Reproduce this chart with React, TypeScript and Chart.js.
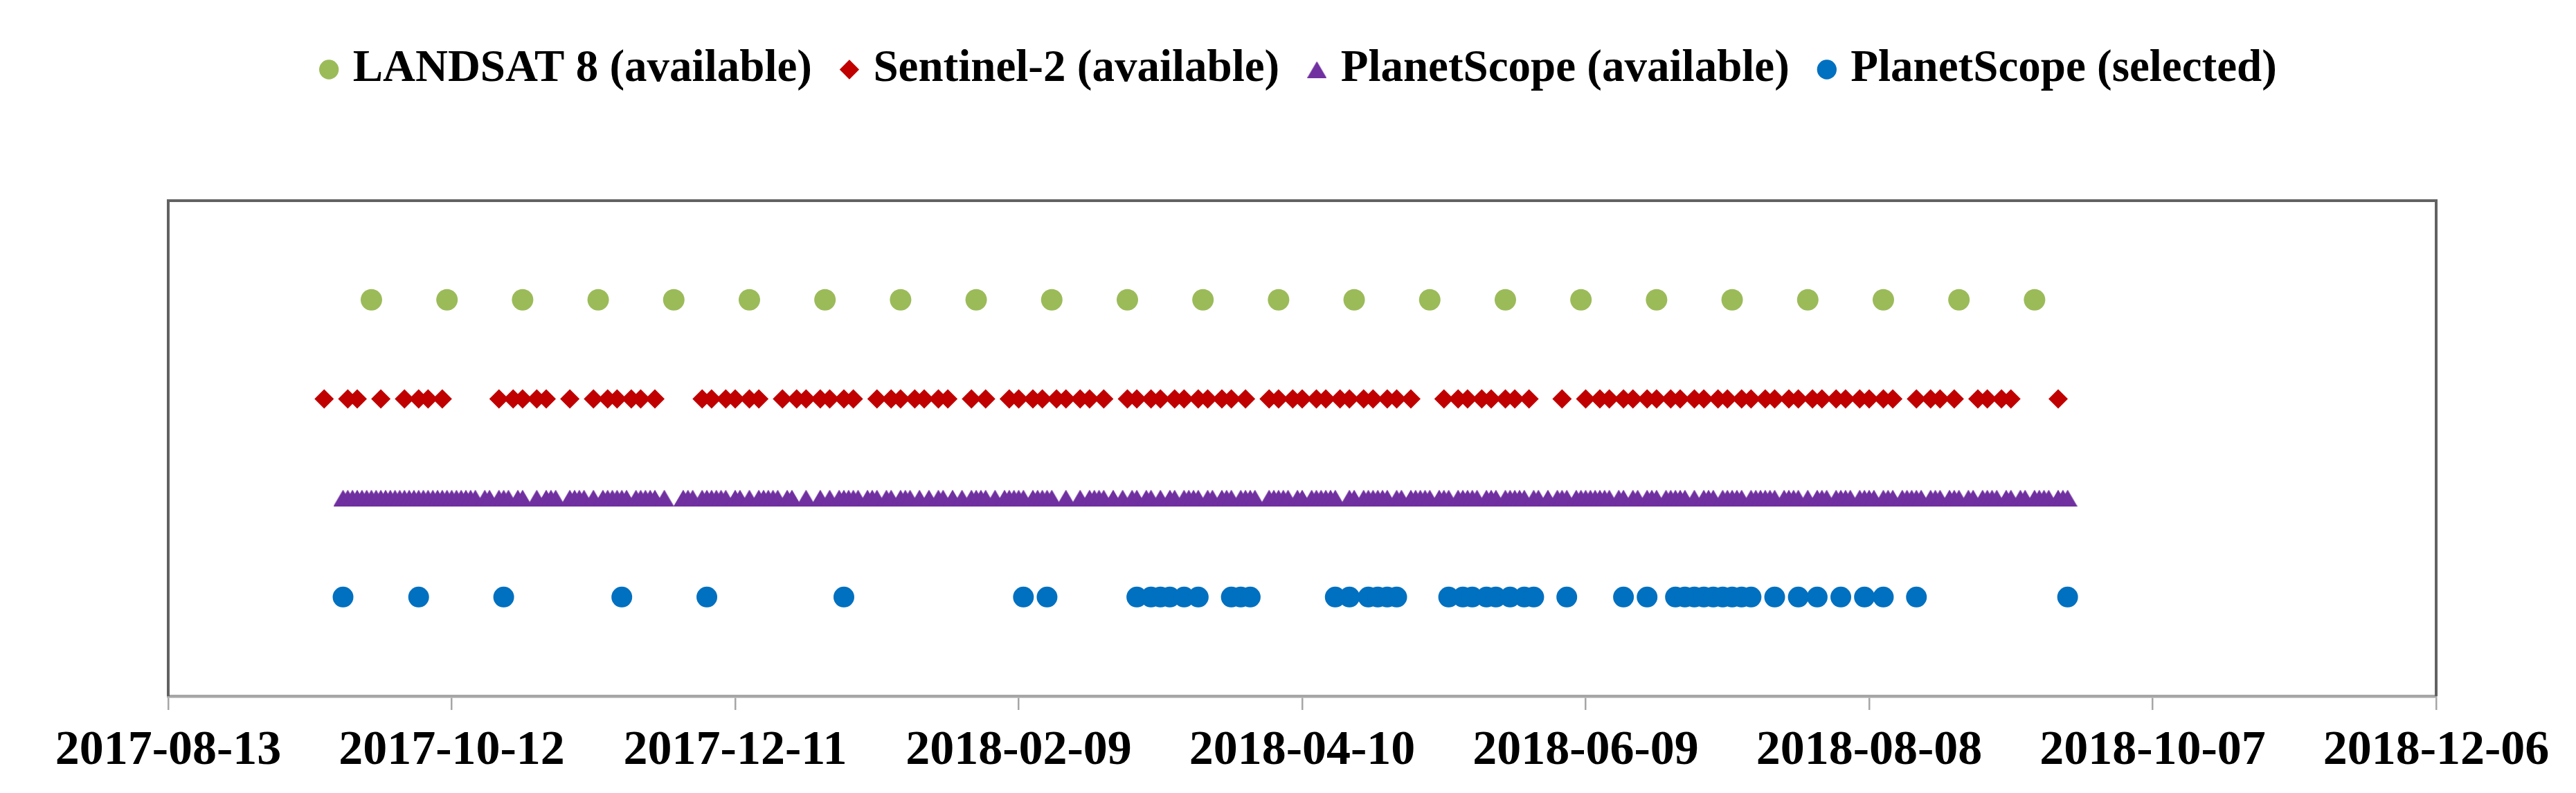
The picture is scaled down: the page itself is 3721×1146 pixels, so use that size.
import React, { useEffect, useRef } from "react";
import { Chart, registerables } from "chart.js";

Chart.register(...registerables);

// ---------- axis ----------
const xAxisStart = "2017-08-13";
const xAxisEnd = "2018-12-06";
const xTickStepDays = 60;

// ---------- series ----------
const seriesNames = [
  "LANDSAT 8 (available)",
  "Sentinel-2 (available)",
  "PlanetScope (available)",
  "PlanetScope (selected)",
];
const seriesRows = [4, 3, 2, 1];
const seriesColors = ["#9BBB59", "#C00000", "#7030A0", "#0070C0"];

const landsatDates = [
  "2017-09-25", "2017-10-11", "2017-10-27", "2017-11-12", "2017-11-28", "2017-12-14",
  "2017-12-30", "2018-01-15", "2018-01-31", "2018-02-16", "2018-03-04", "2018-03-20",
  "2018-04-05", "2018-04-21", "2018-05-07", "2018-05-23", "2018-06-08", "2018-06-24",
  "2018-07-10", "2018-07-26", "2018-08-11", "2018-08-27", "2018-09-12",
];

const sentinelDates = [
  "2017-09-15", "2017-09-20", "2017-09-22", "2017-09-27", "2017-10-02", "2017-10-05",
  "2017-10-07", "2017-10-10", "2017-10-22", "2017-10-25", "2017-10-27", "2017-10-30",
  "2017-11-01", "2017-11-06", "2017-11-11", "2017-11-14", "2017-11-16", "2017-11-19",
  "2017-11-21", "2017-11-24", "2017-12-04", "2017-12-06", "2017-12-09", "2017-12-11",
  "2017-12-14", "2017-12-16", "2017-12-21", "2017-12-24", "2017-12-26", "2017-12-29",
  "2017-12-31", "2018-01-03", "2018-01-05", "2018-01-10", "2018-01-13", "2018-01-15",
  "2018-01-18", "2018-01-20", "2018-01-23", "2018-01-25", "2018-01-30", "2018-02-02",
  "2018-02-07", "2018-02-09", "2018-02-12", "2018-02-14", "2018-02-17", "2018-02-19",
  "2018-02-22", "2018-02-24", "2018-02-27", "2018-03-04", "2018-03-06", "2018-03-09",
  "2018-03-11", "2018-03-14", "2018-03-16", "2018-03-19", "2018-03-21", "2018-03-24",
  "2018-03-26", "2018-03-29", "2018-04-03", "2018-04-05", "2018-04-08", "2018-04-10",
  "2018-04-13", "2018-04-15", "2018-04-18", "2018-04-20", "2018-04-23", "2018-04-25",
  "2018-04-28", "2018-04-30", "2018-05-03", "2018-05-10", "2018-05-13", "2018-05-15",
  "2018-05-18", "2018-05-20", "2018-05-23", "2018-05-25", "2018-05-28", "2018-06-04",
  "2018-06-09", "2018-06-12", "2018-06-14", "2018-06-17", "2018-06-19", "2018-06-22",
  "2018-06-24", "2018-06-27", "2018-06-29", "2018-07-02", "2018-07-04", "2018-07-07",
  "2018-07-09", "2018-07-12", "2018-07-14", "2018-07-17", "2018-07-19", "2018-07-22",
  "2018-07-24", "2018-07-27", "2018-07-29", "2018-08-01", "2018-08-03", "2018-08-06",
  "2018-08-08", "2018-08-11", "2018-08-13", "2018-08-18", "2018-08-21", "2018-08-23",
  "2018-08-26", "2018-08-31", "2018-09-02", "2018-09-05", "2018-09-07", "2018-09-17",
];

// PlanetScope available: days of each month with imagery
const psAvail2017Sep = [19, 20, 21, 22, 23, 24, 25, 26, 27, 28, 29, 30];
const psAvail2017Oct = [1, 2, 3, 4, 5, 6, 7, 8, 9, 10, 11, 12, 13, 14, 15, 16, 17, 19, 20, 22, 23, 24, 26, 27, 30];
const psAvail2017Nov = [1, 2, 3, 6, 7, 8, 9, 11, 13, 14, 15, 16, 17, 18, 20, 21, 22, 23, 24, 26, 30];
const psAvail2017Dec = [1, 2, 4, 5, 6, 7, 8, 9, 11, 12, 14, 16, 17, 18, 19, 20, 22, 23, 26, 29, 31];
const psAvail2018Jan = [2, 3, 4, 5, 6, 8, 9, 10, 12, 13, 15, 16, 17, 19, 21, 23, 24, 26, 28, 30, 31];
const psAvail2018Feb = [1, 2, 4, 6, 7, 8, 9, 10, 12, 13, 14, 15, 16, 19, 22, 24, 25, 26, 27];
const psAvail2018Mar = [1, 3, 5, 6, 8, 9, 11, 13, 14, 16, 17, 18, 19, 21, 22, 24, 25, 26, 28, 29, 30, 31];
const psAvail2018Apr = [3, 4, 5, 6, 7, 9, 10, 12, 13, 14, 15, 16, 17, 20, 21, 23, 24, 25, 26, 27, 28, 30];
const psAvail2018May = [1, 3, 4, 5, 6, 7, 9, 10, 11, 13, 14, 15, 16, 17, 19, 20, 21, 23, 24, 25, 26, 27, 29, 30];
const psAvail2018Jun = [1, 3, 4, 5, 7, 8, 9, 10, 11, 12, 13, 14, 16, 17, 19, 20, 22, 23, 24, 26, 27, 28, 29, 30];
const psAvail2018Jul = [2, 4, 5, 6, 8, 9, 10, 11, 12, 14, 15, 16, 17, 18, 19, 21, 22, 23, 24, 26, 28, 29, 30];
const psAvail2018Aug = [1, 2, 3, 4, 6, 7, 8, 9, 11, 12, 13, 15, 16, 17, 18, 19, 21, 22, 23, 25, 26, 27, 29, 30];
const psAvail2018Sep = [1, 2, 3, 4, 6, 7, 9, 10, 12, 13, 14, 15, 17, 18, 19];

const psAvailableMonths: [string, number[]][] = [
  ["2017-09", psAvail2017Sep], ["2017-10", psAvail2017Oct], ["2017-11", psAvail2017Nov],
  ["2017-12", psAvail2017Dec], ["2018-01", psAvail2018Jan], ["2018-02", psAvail2018Feb],
  ["2018-03", psAvail2018Mar], ["2018-04", psAvail2018Apr], ["2018-05", psAvail2018May],
  ["2018-06", psAvail2018Jun], ["2018-07", psAvail2018Jul], ["2018-08", psAvail2018Aug],
  ["2018-09", psAvail2018Sep],
];

const psSelectedDates = [
  "2017-09-19", "2017-10-05", "2017-10-23", "2017-11-17", "2017-12-05", "2018-01-03",
  "2018-02-10", "2018-02-15", "2018-03-06", "2018-03-09", "2018-03-11", "2018-03-13",
  "2018-03-16", "2018-03-19", "2018-03-26", "2018-03-28", "2018-03-30", "2018-04-17",
  "2018-04-20", "2018-04-24", "2018-04-26", "2018-04-28", "2018-04-30", "2018-05-11",
  "2018-05-14", "2018-05-16", "2018-05-19", "2018-05-21", "2018-05-24", "2018-05-27",
  "2018-05-29", "2018-06-05", "2018-06-17", "2018-06-22", "2018-06-28", "2018-06-30",
  "2018-07-02", "2018-07-04", "2018-07-06", "2018-07-08", "2018-07-10", "2018-07-12",
  "2018-07-14", "2018-07-19", "2018-07-24", "2018-07-28", "2018-08-02", "2018-08-07",
  "2018-08-11", "2018-08-18", "2018-09-19",
];

// ---------- helpers ----------
const EXCEL_EPOCH_OFFSET = 25569;
function toSerial(s: string): number {
  const [y, m, d] = s.split("-").map(Number);
  return Date.UTC(y, m - 1, d) / 86400000 + EXCEL_EPOCH_OFFSET;
}
function fromSerial(n: number): string {
  const dt = new Date(Math.round(n - EXCEL_EPOCH_OFFSET) * 86400000);
  return dt.toISOString().slice(0, 10);
}
const pad2 = (n: number) => (n < 10 ? "0" + n : String(n));
const psAvailableDates: string[] = psAvailableMonths.flatMap(([ym, days]) =>
  days.map((d) => `${ym}-${pad2(d)}`)
);

const SERIF = "'Liberation Serif', 'Times New Roman', Times, serif";

export default function App() {
  const canvasRef = useRef<HTMLCanvasElement | null>(null);

  useEffect(() => {
    document.body.style.margin = "0";
    const canvas = canvasRef.current;
    if (!canvas) return;

    // triangle marker, centred on its bounding box (like the original)
    const tri = document.createElement("canvas");
    tri.width = 28;
    tri.height = 24;
    const tctx = tri.getContext("2d")!;
    tctx.fillStyle = seriesColors[2];
    tctx.beginPath();
    tctx.moveTo(0, 24);
    tctx.lineTo(14, 0);
    tctx.lineTo(28, 24);
    tctx.closePath();
    tctx.fill();

    const allDates = [landsatDates, sentinelDates, psAvailableDates, psSelectedDates];
    const styles: any[] = ["circle", "rectRot", tri, "circle"];
    const radii = [15.5, 14, 14, 15];

    const datasets = allDates.map((dates, i) => ({
      label: seriesNames[i],
      data: dates.map((d) => ({ x: toSerial(d), y: seriesRows[i] })),
      pointStyle: styles[i],
      pointRadius: radii[i],
      pointHoverRadius: radii[i],
      backgroundColor: seriesColors[i],
      borderColor: seriesColors[i],
      borderWidth: 0,
      pointBorderWidth: 0,
      showLine: false,
    }));

    const legendSpacer = {
      id: "legendSpacer",
      beforeInit(chart: any) {
        const origFit = chart.legend.fit;
        chart.legend.fit = function fit() {
          origFit.bind(chart.legend)();
          this.height += 147;
        };
      },
    };

    const framePlugin = {
      id: "plotFrame",
      beforeDatasetsDraw(chart: any) {
        const { ctx, chartArea } = chart;
        const { left, right, top, bottom } = chartArea;
        ctx.save();
        ctx.strokeStyle = "#626262";
        ctx.lineWidth = 4;
        ctx.beginPath();
        ctx.moveTo(left, bottom);
        ctx.lineTo(left, top);
        ctx.lineTo(right, top);
        ctx.lineTo(right, bottom);
        ctx.stroke();
        ctx.restore();
      },
    };

    const chart = new Chart(canvas, {
      type: "scatter",
      data: { datasets },
      options: {
        animation: false,
        responsive: false,
        maintainAspectRatio: false,
        layout: { padding: { top: 16, left: 243, right: 202, bottom: 0 } },
        plugins: {
          legend: {
            position: "top",
            labels: {
              usePointStyle: true,
              boxWidth: 4,
              boxHeight: 20,
              padding: 52,
              color: "#000000",
              font: { family: SERIF, size: 65, weight: "bold" },
            },
          },
          tooltip: { enabled: false },
        },
        scales: {
          x: {
            type: "linear",
            min: toSerial(xAxisStart),
            max: toSerial(xAxisEnd),
            ticks: {
              stepSize: xTickStepDays,
              autoSkip: false,
              maxRotation: 0,
              minRotation: 0,
              padding: 25,
              color: "#000000",
              font: { family: SERIF, size: 70, weight: "bold", lineHeight: 1 },
              callback: (v: any) => fromSerial(Number(v)),
            },
            grid: {
              drawOnChartArea: false,
              drawTicks: true,
              tickLength: 20,
              color: "#A6A6A6",
              lineWidth: 2.5,
            },
            border: { display: true, color: "#A6A6A6", width: 4.5 },
          },
          y: { display: false, min: 0, max: 5 },
        },
      },
      plugins: [legendSpacer, framePlugin],
    } as any);

    return () => chart.destroy();
  }, []);

  return (
    <canvas
      ref={canvasRef}
      width={3721}
      height={1146}
      style={{ display: "block", width: "3721px", height: "1146px" }}
    />
  );
}
